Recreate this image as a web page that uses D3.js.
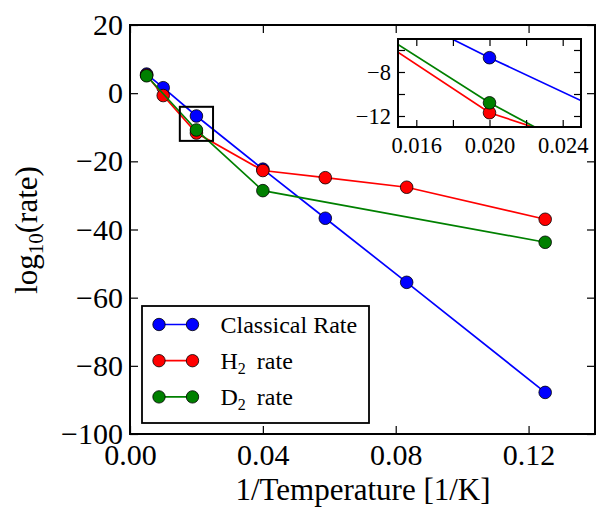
<!DOCTYPE html>
<html>
<head>
<meta charset="utf-8">
<script src="https://cdn.jsdelivr.net/npm/d3@7"></script>
<style>
  body { margin: 0; background: #fff; }
</style>
</head>
<body>
<script>
// data
const invT = [0.005, 0.01, 0.02, 0.04, 0.0588, 0.0833, 0.125];
const classicalRate = [5.6, 1.6, -6.7, -22.3, -36.7, -55.5, -87.8];
const h2Rate = [5.3, -0.7, -11.7, -22.7, -24.8, -27.6, -37.0];
const invTD2 = [0.005, 0.02, 0.04, 0.125];
const d2Rate = [5.1, -10.8, -28.6, -43.75];

const mainXTicks = [0, 0.04, 0.08, 0.12];
const mainYTicks = [-100, -80, -60, -40, -20, 0, 20];
const insetXTicks = [0.016, 0.018, 0.020, 0.022, 0.024];
const insetXLabels = [0.016, 0.020, 0.024];
const insetYTicks = [-12, -10, -8, -6];
const insetYLabels = [-12, -8];

const zoomX = [0.015, 0.025];
const zoomY = [-14, -4];
const insetXDomain = [0.015, 0.025];
const insetYDomain = [-13, -5];

const series = [
    {label: "Classical Rate", sub: null, color: "#0000ff", xs: invT, ys: classicalRate},
    {label: "H", sub: "2", rest: "rate", color: "#ff0000", xs: invT, ys: h2Rate},
    {label: "D", sub: "2", rest: "rate", color: "#008000", xs: invTD2, ys: d2Rate}
];

const serif = "'Liberation Serif', 'DejaVu Serif', serif";
const width = 596, height = 513;
const svg = d3.select("body").append("svg")
    .attr("width", width)
    .attr("height", height);

const x = d3.scaleLinear().domain([0, 0.14]).range([130, 595]);
const y = d3.scaleLinear().domain([-100, 20]).range([434, 25]);

const xi = d3.scaleLinear().domain(insetXDomain).range([398, 581]);
const yi = d3.scaleLinear().domain(insetYDomain).range([127, 39]);

const near = (arr, d) => arr.some(v => Math.abs(v - d) < 1e-9);

function drawFrame(g, xs, ys, o) {
    const [x0, x1] = xs.range();
    const [y0, y1] = ys.range();
    const bottom = g.append("g")
        .attr("transform", "translate(0," + y0 + ")")
        .call(d3.axisBottom(xs).tickValues(o.xTicks)
            .tickFormat(d => near(o.xLabels, d) ? o.fx(d) : "")
            .tickSizeInner(-o.len).tickSizeOuter(0).tickPadding(o.padX));
    const top = g.append("g")
        .attr("transform", "translate(0," + y1 + ")")
        .call(d3.axisTop(xs).tickValues(o.xTicks).tickFormat("")
            .tickSizeInner(-o.len).tickSizeOuter(0));
    const left = g.append("g")
        .attr("transform", "translate(" + x0 + ",0)")
        .call(d3.axisLeft(ys).tickValues(o.yTicks)
            .tickFormat(d => near(o.yLabels, d) ? o.fy(d) : "")
            .tickSizeInner(-o.len).tickSizeOuter(0).tickPadding(o.padY));
    const right = g.append("g")
        .attr("transform", "translate(" + x1 + ",0)")
        .call(d3.axisRight(ys).tickValues(o.yTicks).tickFormat("")
            .tickSizeInner(-o.len).tickSizeOuter(0));
    [bottom, top, left, right].forEach(a => {
        a.select(".domain").remove();
        a.attr("font-family", serif).attr("font-size", o.fontSize);
        a.selectAll(".tick line").attr("stroke", "#000").attr("stroke-width", 1.2);
        a.selectAll(".tick text")
            .attr("fill", "#000")
            .style("font-family", serif)
            .style("font-size", o.fontSize + "px");
    });
    g.append("rect")
        .attr("x", x0).attr("y", y1)
        .attr("width", x1 - x0).attr("height", y0 - y1)
        .attr("fill", "none")
        .attr("stroke", "#000")
        .attr("stroke-width", 2);
}

function drawSeries(g, xs, ys) {
    series.forEach(s => {
        const pts = s.xs.map((v, i) => [v, s.ys[i]]);
        g.append("path")
            .datum(pts)
            .attr("fill", "none")
            .attr("stroke", s.color)
            .attr("stroke-width", 1.7)
            .attr("d", d3.line().x(d => xs(d[0])).y(d => ys(d[1])));
        g.selectAll(null)
            .data(pts)
            .enter()
            .append("circle")
            .attr("cx", d => xs(d[0]))
            .attr("cy", d => ys(d[1]))
            .attr("r", 6.3)
            .attr("fill", s.color)
            .attr("stroke", "#000")
            .attr("stroke-width", 0.8);
    });
}

// main plot
const main = svg.append("g");
drawSeries(main, x, y);

main.append("rect")
    .attr("x", x(zoomX[0]))
    .attr("y", y(zoomY[1]))
    .attr("width", x(zoomX[1]) - x(zoomX[0]))
    .attr("height", y(zoomY[0]) - y(zoomY[1]))
    .attr("fill", "none")
    .attr("stroke", "#000")
    .attr("stroke-width", 2);

drawFrame(main, x, y, {
    xTicks: mainXTicks, xLabels: mainXTicks, fx: d3.format(".2f"),
    yTicks: mainYTicks, yLabels: mainYTicks, fy: d3.format("d"),
    len: 8, padX: 10, padY: 7, fontSize: 30
});

// legend
const legend = svg.append("g").attr("transform", "translate(142,306)");
legend.append("rect")
    .attr("width", 227)
    .attr("height", 117)
    .attr("fill", "#fff")
    .attr("stroke", "#000")
    .attr("stroke-width", 1.8);
series.forEach((s, i) => {
    const row = legend.append("g").attr("transform", "translate(0," + (18.5 + i * 36.2) + ")");
    row.append("line")
        .attr("x1", 17).attr("x2", 50.5)
        .attr("stroke", s.color).attr("stroke-width", 1.7);
    [17, 50.5].forEach(cx => row.append("circle")
        .attr("cx", cx).attr("r", 6.2)
        .attr("fill", s.color).attr("stroke", "#000").attr("stroke-width", 0.8));
    const t = row.append("text")
        .attr("x", 78.5).attr("y", 8.3)
        .style("font-family", serif)
        .style("font-size", "24px")
        .attr("fill", "#000");
    t.append("tspan").text(s.label);
    if (s.sub) {
        t.append("tspan").attr("dy", 5).style("font-size", "16px").text(s.sub);
        t.append("tspan").attr("dy", -5).attr("dx", 11).text(s.rest);
    }
});

// inset
const inset = svg.append("g");
inset.append("rect")
    .attr("x", 398).attr("y", 39).attr("width", 183).attr("height", 88)
    .attr("fill", "#fff");
svg.append("clipPath").attr("id", "insetClip")
    .append("rect")
    .attr("x", 398).attr("y", 39).attr("width", 183).attr("height", 88);
const insetData = inset.append("g").attr("clip-path", "url(#insetClip)");
drawSeries(insetData, xi, yi);
drawFrame(inset, xi, yi, {
    xTicks: insetXTicks, xLabels: insetXLabels, fx: d3.format(".3f"),
    yTicks: insetYTicks, yLabels: insetYLabels, fy: d3.format("d"),
    len: 7, padX: 10, padY: 7, fontSize: 22.5
});

// axis titles
svg.append("text")
    .attr("x", 363)
    .attr("y", 500)
    .attr("text-anchor", "middle")
    .style("font-family", serif)
    .style("font-size", "31px")
    .text("1/Temperature [1/K]");

const ylab = svg.append("text")
    .attr("transform", "translate(37,230) rotate(-90)")
    .attr("text-anchor", "middle")
    .style("font-family", serif)
    .style("font-size", "31px");
ylab.append("tspan").text("log");
ylab.append("tspan").attr("dy", 6).style("font-size", "21px").text("10");
ylab.append("tspan").attr("dy", -6).text("(rate)");
</script>
</body>
</html>
